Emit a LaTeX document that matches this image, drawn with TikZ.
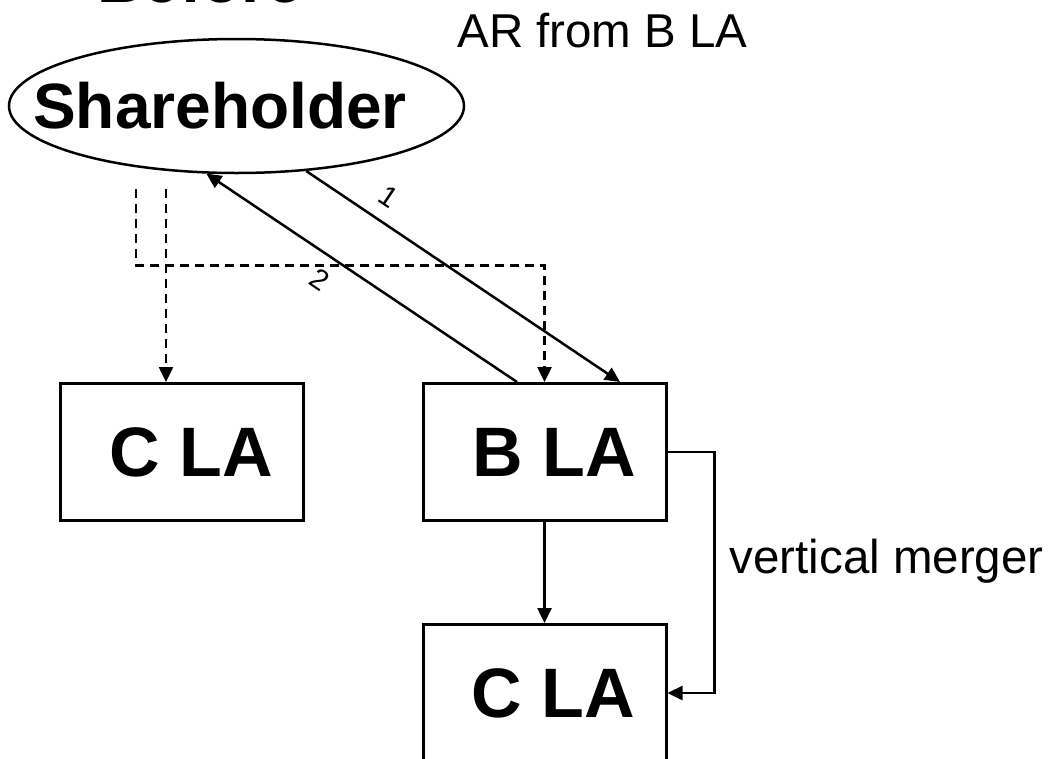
\documentclass[tikz,border=0pt]{standalone}
\usepackage{fontspec}
\setmainfont{Liberation Sans}
\usetikzlibrary{arrows.meta,shapes.geometric,calc}

\begin{document}
\begin{tikzpicture}[x=1pt,y=-1pt,
  line/.style={line width=2.5pt, draw=black},
  tip/.style={-{Triangle[length=15pt,width=14pt]}},
  dashline/.style={dash pattern=on 9pt off 6pt},
  lbox/.style={draw, line width=3pt, minimum width=243pt, minimum height=137pt,
    inner sep=0pt, font=\fontsize{70}{80}\selectfont\bfseries},
  bigtext/.style={font=\fontsize{47.5}{56}\selectfont},
  heavytext/.style={font=\fontsize{64}{72}\selectfont\bfseries},
  num/.style={font=\fontsize{29}{33}\selectfont, inner xsep=0pt, inner ysep=13.5pt},
]
\useasboundingbox (0,0) rectangle (1048,758);

% headings
\node[anchor=base, font=\fontsize{65}{72}\selectfont\bfseries] (before) at (200,2) {Before};
\node[anchor=base, bigtext] (ar) at (602.5,47) {AR from B LA};

% shareholder
\node[ellipse, draw, line width=2.5pt, minimum width=455pt, minimum height=134pt,
  inner sep=0pt] (sh) at (236.5,106) {};
\node[anchor=base, heavytext] (shtext) at (220,128) {Shareholder};

% companies
\node[lbox] (cla1) at (181.5,452) {\hspace*{19pt}C LA};
\node[lbox] (bla)  at (544.5,452) {\hspace*{20pt}B LA};
\node[lbox] (cla2) at (544.5,693) {\hspace*{17pt}C LA};

\node[anchor=base west, bigtext] (vm) at (726,573) {vertical merger};

% helper points
\coordinate (b1) at ($(bla.north)+(75.5,0)$);
\coordinate (b2) at ($(bla.north)+(-27.5,0)$);
\coordinate (d1) at ($(sh.south)+(-100.5,15)$);
\coordinate (d2) at ($(sh.south)+(-70.5,15)$);
\coordinate (corner) at ($(d1)+(0,76)$);
\coordinate (c1) at ($(cla1.north)+(-15.5,0)$);

% share transfers
\draw[line, tip] (sh.-43) -- node[num, sloped, above, pos=0.22] (n1) {1} (b1);
\draw[line, tip] (b2) -- node[num, sloped, below, pos=0.59] (n2) {2} (sh.-114);

% holdings (dashed)
\draw[line, dashline, tip] (d2) -- (c1);
\draw[line, dashline, tip] (d1) -- (corner) -| (bla.north);

% vertical merger
\draw[line, tip] (bla.south) -- (cla2.north);
\draw[line, tip] (bla.east) -- ++(47,0) |- (cla2.east);
\end{tikzpicture}
\end{document}
